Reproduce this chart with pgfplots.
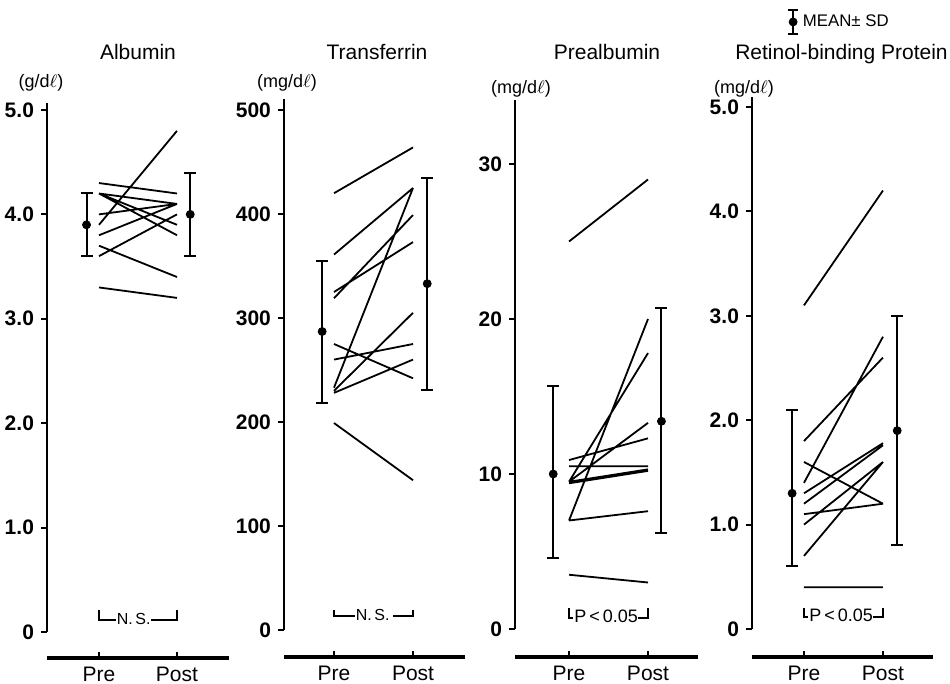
\documentclass[border=0pt]{standalone}
\usepackage{fontspec}
\setmainfont{Liberation Sans}
\usepackage{pgfplots}
\pgfplotsset{compat=1.18}

\pgfplotsset{
  panel/.style={
    scale only axis, anchor=south west, clip=false,
    axis x line*=bottom, axis y line*=left, separate axis lines,
    x axis line style={line width=1.6pt},
    tick align=outside, major tick length=3pt,
    tick style={black, line width=1pt},
    major x tick style={yshift=3pt},
    xtick={0,1}, xticklabels={Pre,Post},
    xticklabel style={font=\fontsize{10.5}{12}\selectfont, yshift=2pt},
    yticklabel style={font=\bfseries\fontsize{10.5}{12}\selectfont,
      /pgf/number format/assume math mode=true},
    unbounded coords=jump,
  },
  subj/.style={black, line width=0.9pt, no marks},
  meansd/.style={black, only marks, mark=*, mark size=2pt,
    error bars/y dir=both, error bars/y explicit,
    error bars/error bar style={line width=1pt},
    error bars/error mark options={rotate=90, mark size=3pt, line width=1pt}},
}
\tikzset{brk/.style={line width=0.8pt}}

\begin{document}
\begin{tikzpicture}
\path[use as bounding box] (0,0) rectangle (475pt,342pt);

% Albumin
\begin{axis}[panel, at={(23.5pt,13pt)}, width=91pt, height=277.5pt,
  xmin=-0.667, xmax=1.667, ymin=-0.249, ymax=5.067,
  y axis line style={line width=1.4pt, shorten <=13pt},
  ytick={0,1,2,3,4,5}, yticklabels={0,1.0,2.0,3.0,4.0,5.0}]
\addplot[subj] coordinates {
  (0,4.3) (1,4.2) (0.5,nan)
  (0,4.2) (1,4.1) (0.5,nan)
  (0,4.2) (1,3.9) (0.5,nan)
  (0,4.2) (1,3.8) (0.5,nan)
  (0,4.0) (1,4.1) (0.5,nan)
  (0,3.9) (1,4.8) (0.5,nan)
  (0,3.8) (1,4.1) (0.5,nan)
  (0,3.6) (1,4.0) (0.5,nan)
  (0,3.7) (1,3.4) (0.5,nan)
  (0,3.3) (1,3.2)
};
\addplot[meansd] coordinates {
  (-0.16,3.9) += (0,0.3) -= (0,0.3)
  (1.17,4.0) += (0,0.4) -= (0,0.4)
};
\draw[brk] (axis cs:0,0.21) |- (axis cs:0.22,0.115);
\draw[brk] (axis cs:0.67,0.115) -| (axis cs:1,0.21);
\node[font=\fontsize{8}{9}\selectfont] at (axis cs:0.445,0.12) {N.\,S.};
\end{axis}

% Transferrin
\begin{axis}[panel, at={(142pt,13.5pt)}, width=90.5pt, height=279pt,
  xmin=-0.633, xmax=1.658, ymin=-25.96, ymax=510.6,
  y axis line style={line width=1.4pt, shorten <=13.5pt},
  ytick={0,100,200,300,400,500}, yticklabels={0,100,200,300,400,500}]
\addplot[subj] coordinates {
  (0,420) (1,464) (0.5,nan)
  (0,361) (1,425) (0.5,nan)
  (0,325) (1,373) (0.5,nan)
  (0,319) (1,399) (0.5,nan)
  (0,275) (1,242) (0.5,nan)
  (0,260) (1,275) (0.5,nan)
  (0,233) (1,425) (0.5,nan)
  (0,230) (1,305) (0.5,nan)
  (0,228) (1,260) (0.5,nan)
  (0,199) (1,144)
};
\addplot[meansd] coordinates {
  (-0.15,287) += (0,68) -= (0,69)
  (1.18,333) += (0,102) -= (0,102)
};
\draw[brk] (axis cs:0,19.2) |- (axis cs:0.27,13.5);
\draw[brk] (axis cs:0.75,13.5) -| (axis cs:1,19.2);
\node[font=\fontsize{8}{9}\selectfont] at (axis cs:0.49,14) {N.\,S.};
\end{axis}

% Prealbumin
\begin{axis}[panel, at={(257.5pt,13.5pt)}, width=91.5pt, height=278.5pt,
  xmin=-0.684, xmax=1.633, ymin=-1.806, ymax=34.13,
  y axis line style={line width=1.4pt, shorten <=14pt},
  ytick={0,10,20,30}, yticklabels={0,10,20,30}]
\addplot[subj] coordinates {
  (0,25.0) (1,29.0) (0.5,nan)
  (0,10.9) (1,12.3) (0.5,nan)
  (0,10.5) (1,10.5) (0.5,nan)
  (0,9.5) (1,17.8) (0.5,nan)
  (0,9.5) (1,13.3) (0.5,nan)
  (0,9.5) (1,10.3) (0.5,nan)
  (0,9.4) (1,10.2) (0.5,nan)
  (0,7.0) (1,20.0) (0.5,nan)
  (0,7.0) (1,7.6) (0.5,nan)
  (0,3.5) (1,3.0)
};
\addplot[meansd] coordinates {
  (-0.2,10.0) += (0,5.7) -= (0,5.4)
  (1.17,13.4) += (0,7.3) -= (0,7.2)
};
\draw[brk] (axis cs:0,1.35) |- (axis cs:0.05,0.71);
\draw[brk] (axis cs:0.87,0.71) -| (axis cs:1,1.35);
\node[font=\fontsize{9}{10}\selectfont] at (axis cs:0.47,0.8) {P\,<\,0.05};
\end{axis}

% Retinol-binding protein
\begin{axis}[panel, at={(376pt,13.5pt)}, width=90.5pt, height=280pt,
  xmin=-0.658, xmax=1.633, ymin=-0.268, ymax=5.096,
  y axis line style={line width=1.4pt, shorten <=14pt},
  ytick={0,1,2,3,4,5}, yticklabels={0,1.0,2.0,3.0,4.0,5.0},
  legend style={draw=none, fill=none, at={(0.193,1.134)}, anchor=west,
    inner sep=0pt, font=\fontsize{8.4}{10}\selectfont},
  legend cell align=left]
\addplot[subj, forget plot] coordinates {
  (0,3.1) (1,4.2) (0.5,nan)
  (0,1.8) (1,2.6) (0.5,nan)
  (0,1.4) (1,2.8) (0.5,nan)
  (0,1.6) (1,1.2) (0.5,nan)
  (0,1.3) (1,1.78) (0.5,nan)
  (0,1.2) (1,1.76) (0.5,nan)
  (0,1.1) (1,1.2) (0.5,nan)
  (0,1.0) (1,1.6) (0.5,nan)
  (0,0.7) (1,1.6) (0.5,nan)
  (0,0.4) (1,0.4)
};
\addplot[legend image code/.code={
    \draw[line width=0.8pt] (0pt,-6pt)--(0pt,6pt)
      (-2.5pt,-6pt)--(2.5pt,-6pt) (-2.5pt,6pt)--(2.5pt,6pt);
    \fill (0pt,0pt) circle (2pt);}, meansd] coordinates {
  (-0.15,1.3) += (0,0.8) -= (0,0.7)
  (1.18,1.9) += (0,1.1) -= (0,1.1)
};
\addlegendentry{MEAN± SD}
\draw[brk] (axis cs:0,0.2) |- (axis cs:0.05,0.115);
\draw[brk] (axis cs:0.87,0.115) -| (axis cs:1,0.2);
\node[font=\fontsize{9}{10}\selectfont] at (axis cs:0.47,0.13) {P\,<\,0.05};
\end{axis}

% titles and units
\begin{scope}[font=\fontsize{10.5}{12}\selectfont]
\node[anchor=base] at (69pt,312pt) {Albumin};
\node[anchor=base] at (188.5pt,312pt) {Transferrin};
\node[anchor=base] at (303.5pt,312pt) {Prealbumin};
\node[anchor=base] at (420.75pt,312pt) {Retinol-binding Protein};
\end{scope}
\begin{scope}[font=\fontsize{9}{10}\selectfont]
\node at (20.5pt,300.5pt) {(g/d$\ell$)};
\node at (143.5pt,300.5pt) {(mg/d$\ell$)};
\node at (260.5pt,297.5pt) {(mg/d$\ell$)};
\node at (372pt,297.5pt) {(mg/d$\ell$)};
\end{scope}
\end{tikzpicture}
\end{document}
